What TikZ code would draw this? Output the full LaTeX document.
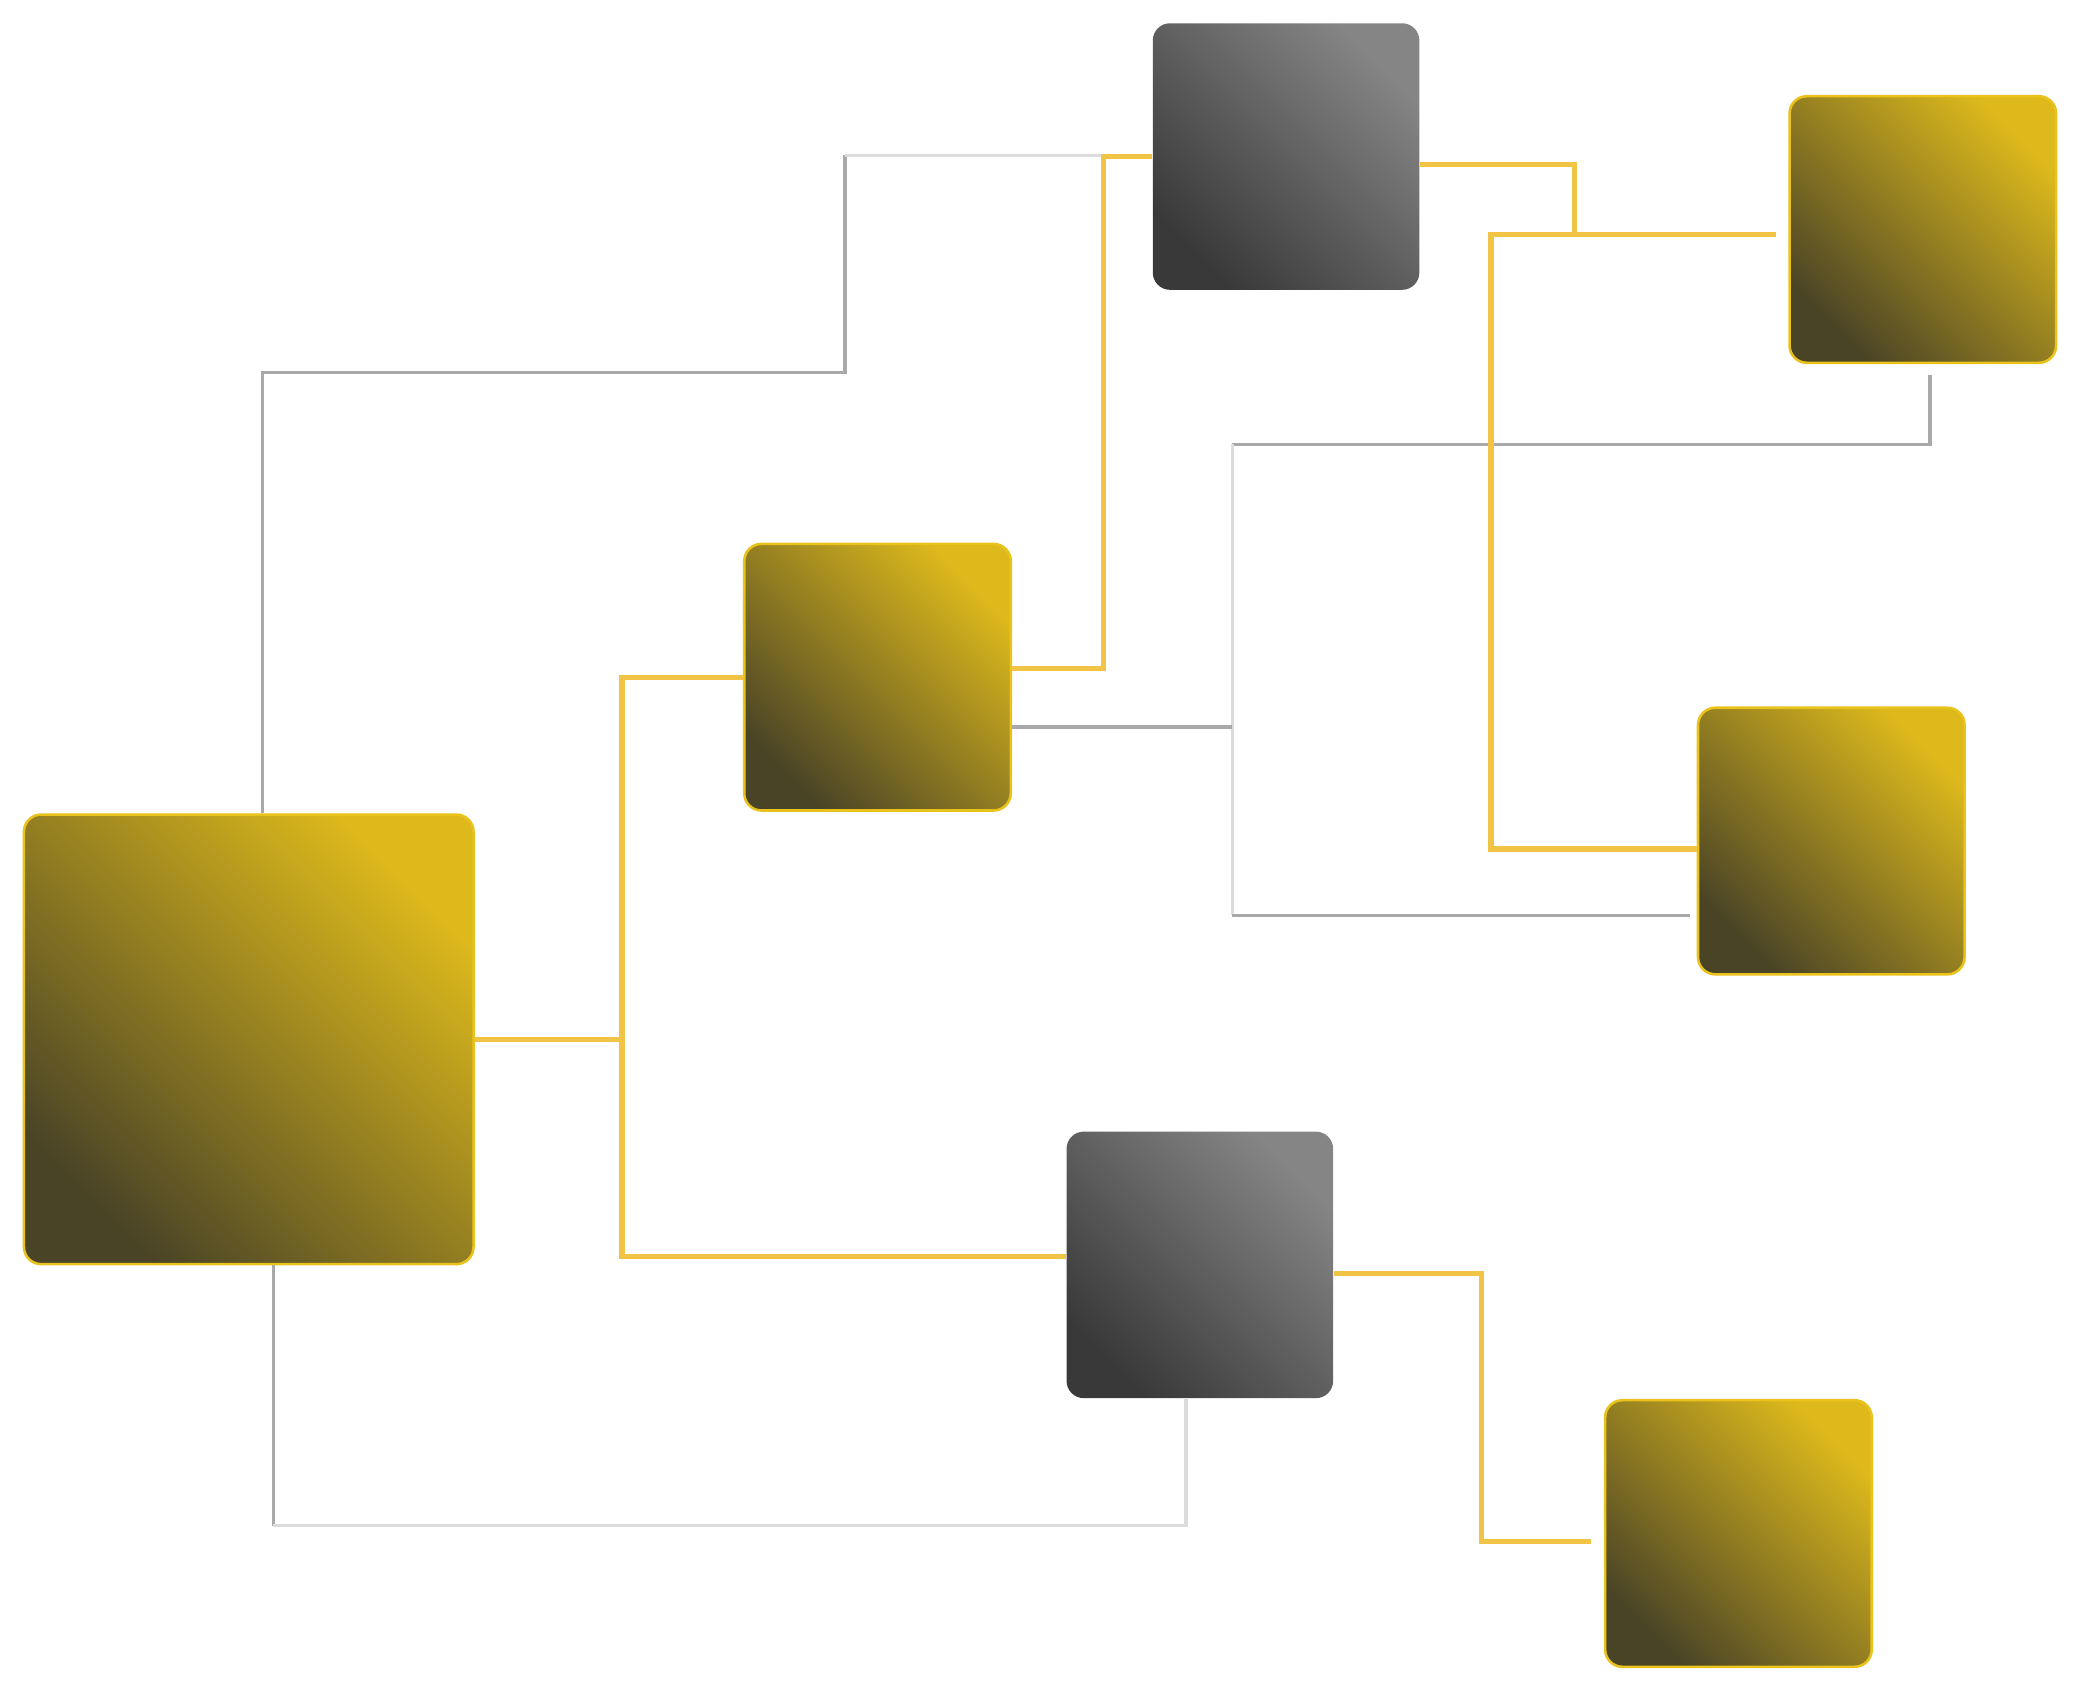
\documentclass[tikz,border=0pt]{standalone}
\usetikzlibrary{calc}

\definecolor{goldline}{HTML}{F2C445}
\definecolor{goldedge}{HTML}{E9C21C}
\definecolor{goldtop}{HTML}{DDB91C}
\definecolor{golddark}{HTML}{4A4426}
\definecolor{greytop}{HTML}{858585}
\definecolor{greydark}{HTML}{393939}
\definecolor{greyline}{HTML}{A9A9A9}
\definecolor{paleline}{HTML}{DCDCDC}

\begin{document}
\begin{tikzpicture}[x=0.02cm,y=-0.02cm,
                box/.style={rectangle,rounded corners=0.26cm,inner sep=0pt,minimum size=4.02cm},
                gold node/.style={box,draw=goldedge,line width=1.1pt,top color=goldtop,bottom color=golddark,shading angle=-45},
                grey node/.style={box,top color=greytop,bottom color=greydark,shading angle=-45},
                gold line/.style={draw=goldline,line width=2.3pt},
                grey line/.style={draw=greyline,line width=1.4pt},
                pale line/.style={draw=paleline,line width=1.4pt}]
	\useasboundingbox (0,0) rectangle (1568,1276);

	\node[gold node,minimum size=6.78cm] (A) at (187.5,783.5) {};
	\node[gold node] (B) at (661.5,510.5) {};
	\node[grey node] (C) at (969.5,118) {};
	\node[gold node] (D) at (1449.5,173) {};
	\node[gold node] (E) at (1380.5,634) {};
	\node[grey node] (F) at (904.5,953.5) {};
	\node[gold node] (G) at (1310.5,1156) {};

	% grey links
	\draw[grey line] (A.north -| 198,0) |- (637,281) -- (637,117);
	\draw[pale line] (637,117) -- (C.west |- 0,117);
	\draw[grey line,shorten <=0.16cm] (D.south -| 1455,0) |- (929,335);
	\draw[pale line] (929,335) -- (929,690);
	\draw[grey line,shorten >=0.1cm] (929,690) -- (E.west |- 0,690);
	\draw[grey line] (B.east |- 0,548) -- (929,548);
	\draw[grey line] (A.south -| 206,0) -- (206,1150);
	\draw[pale line] (206,1150) -| (F.south -| 894,0);

	% gold links
	\draw[gold line] (B.west) -| (469,947) -- (F.west |- 0,947);
	\draw[gold line] (A.east) -- (A.east -| 469,0);
	\draw[gold line] (B.east |- 0,504) -- (832,504) |- (C.west);
	\draw[gold line,shorten >=0.18cm] (C.east |- 0,124) -- (1187,124) |- (D.west |- 0,177);
	\draw[gold line] (1187,177) -- (1124,177) |- (E.west |- 0,640);
	\draw[gold line,shorten >=0.2cm] (F.east |- 0,960) -- (1117,960) |- (G.west |- 0,1162);

\end{tikzpicture}
\end{document}
